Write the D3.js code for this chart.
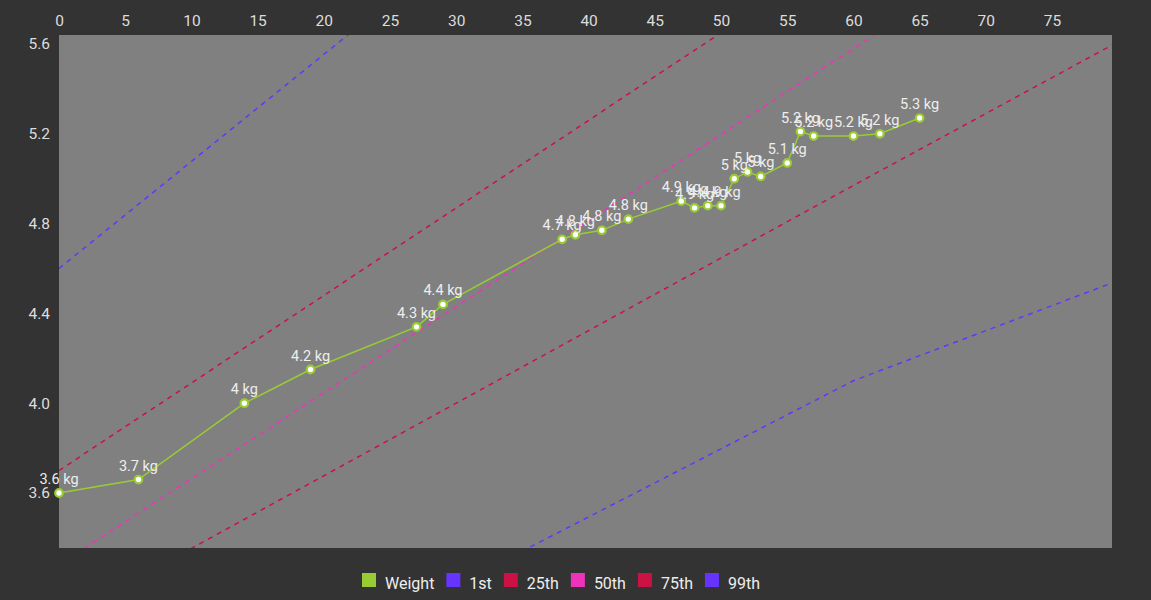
<!DOCTYPE html><html><head><meta charset="utf-8">
<script src="https://cdn.jsdelivr.net/npm/d3@7"></script>
<style>body{margin:0;background:#333;}svg{display:block;font-family:Roboto,sans-serif;}</style></head><body>
<svg id="c" width="1151" height="600"></svg>
<script>
const weightDays=[0,6,14,19,27,29,38,39,41,43,47,48,49,50,51,52,53,55,56,57,60,62,65];
const weightKg=[3.60,3.66,4.00,4.15,4.34,4.44,4.73,4.75,4.77,4.82,4.90,4.87,4.88,4.88,5.00,5.03,5.01,5.07,5.21,5.19,5.19,5.20,5.27];
const pDays=[0,30,60,80];
const p1=[2.28,3.19,4.10,4.546];
const p25=[3.03,4.00,4.97,5.61];
const p50=[3.28,4.43,5.58,6.35];
const p75=[3.70,4.87,6.04,6.82];
const p99=[4.60,6.03,7.46,8.42];
const xTicks=[0,5,10,15,20,25,30,35,40,45,50,55,60,65,70,75];
const yTicks=[3.6,4.0,4.4,4.8,5.2,5.6];
const legendNames=["Weight","1st","25th","50th","75th","99th"];
const legendColors=["#99cc33","#6633ff","#cc1144","#ee33bb","#cc1144","#6633ff"];

const svg=d3.select("#c");
const L=59,R=1112,T=35,B=548;
const x=d3.scaleLinear().domain([0,79.53]).range([L,R]);
const y=d3.scaleLinear().domain([3.355,5.64]).range([B,T]);
svg.append("rect").attr("x",L).attr("y",T).attr("width",R-L).attr("height",B-T).attr("fill","#808080");
svg.append("defs").append("clipPath").attr("id","cp").append("rect").attr("x",L).attr("y",T).attr("width",R-L).attr("height",B-T);
const g=svg.append("g").attr("clip-path","url(#cp)");
const line=d3.line().x(d=>x(d[0])).y(d=>y(d[1]));
[[p1,1],[p25,2],[p50,3],[p75,4],[p99,5]].forEach(([arr,i])=>{
  g.append("path").attr("d",line(pDays.map((d,j)=>[d,arr[j]]))).attr("fill","none")
   .attr("stroke",legendColors[i]).attr("stroke-width",1.5).attr("stroke-dasharray","5,5");
});
const pts=weightDays.map((d,i)=>[d,weightKg[i]]);
svg.append("path").attr("d",line(pts)).attr("fill","none").attr("stroke","#99cc33").attr("stroke-width",1.5);
svg.selectAll("circle.p").data(pts).join("circle").attr("cx",d=>x(d[0])).attr("cy",d=>y(d[1])).attr("r",3.8)
 .attr("fill","#fff").attr("stroke","#99cc33").attr("stroke-width",2.2);
svg.selectAll("text.lbl").data(pts).join("text").attr("x",d=>x(d[0])).attr("y",d=>y(d[1])-9)
 .attr("text-anchor","middle").attr("fill","#eee").attr("font-size",14.5).text(d=>(+d[1].toFixed(1))+" kg");
const xa=svg.append("g").attr("transform",`translate(0,${T})`).call(d3.axisTop(x).tickValues(xTicks).tickSize(0).tickPadding(9));
const ya=svg.append("g").attr("transform",`translate(${L},0)`).call(d3.axisLeft(y).tickValues(yTicks).tickFormat(d3.format(".1f")).tickSize(0).tickPadding(9));
[xa,ya].forEach(a=>{a.select(".domain").remove();a.selectAll("text").attr("fill","#ddd").attr("font-size",15.5).attr("font-family","Roboto,sans-serif");});
ya.selectAll("text").attr("dy","0.32em");
const lg=svg.append("g");
let lx=362;
legendNames.forEach((n,i)=>{
  lg.append("rect").attr("x",lx).attr("y",573).attr("width",14).attr("height",14).attr("fill",legendColors[i]);
  const t=lg.append("text").attr("x",lx+23).attr("y",589).attr("fill","#eee").attr("font-size",16).text(n);
  lx+=23+t.node().getComputedTextLength()+12;
});
</script></body></html>
